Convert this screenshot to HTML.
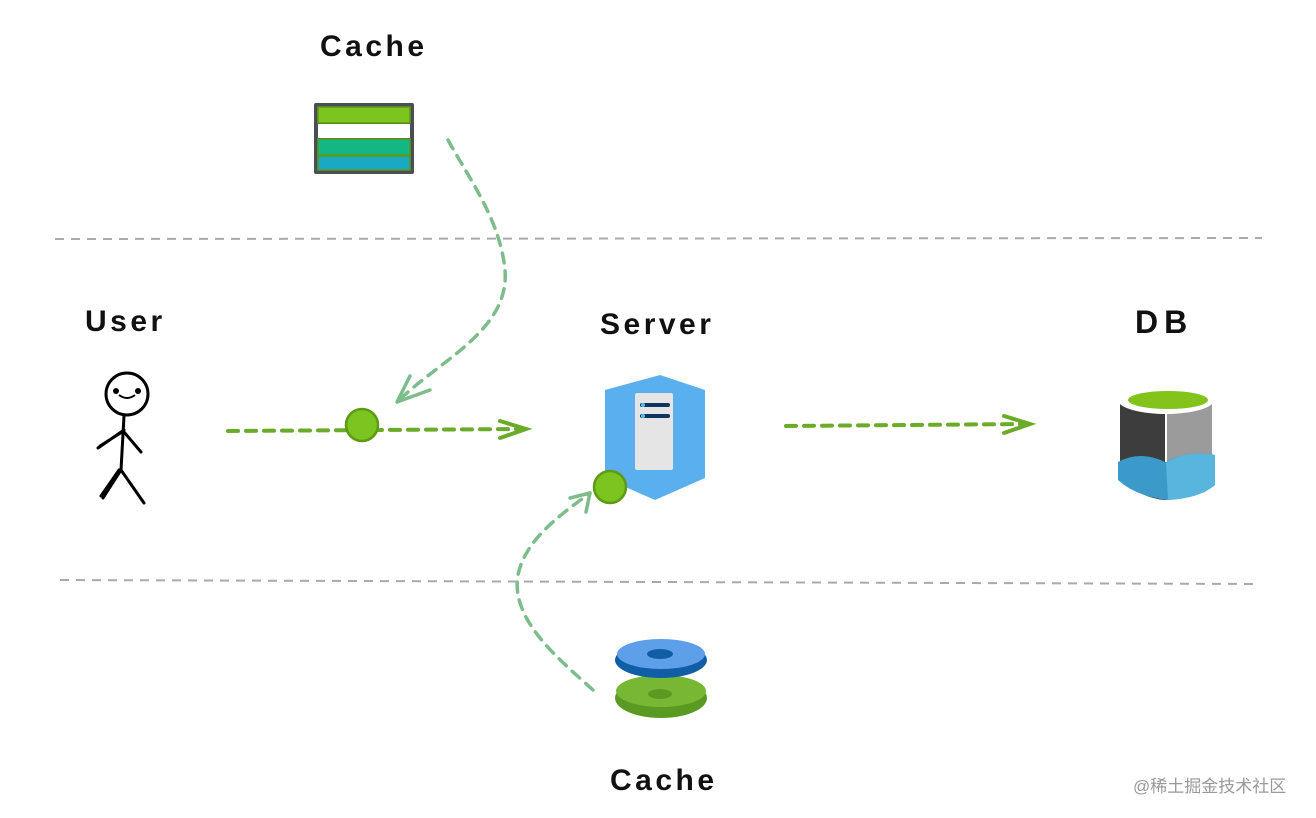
<!DOCTYPE html>
<html><head><meta charset="utf-8"><style>
html,body{margin:0;padding:0;background:#fff;}
svg{display:block}
text{font-family:"Liberation Sans",sans-serif;font-weight:bold;fill:#111;letter-spacing:3.5px}
</style></head><body>
<svg width="1316" height="818" viewBox="0 0 1316 818">
<line x1="55" y1="239" x2="1262" y2="238" stroke="#aaa" stroke-width="2" stroke-dasharray="9,7"/>
<line x1="60" y1="580" x2="1258" y2="584" stroke="#aaa" stroke-width="2" stroke-dasharray="9,7"/>
<text x="320" y="56" font-size="30">Cache</text>
<text x="85" y="331" font-size="30">User</text>
<text x="600" y="334" font-size="30">Server</text>
<text x="1135" y="333" font-size="32" style="letter-spacing:6px">DB</text>
<text x="610" y="790" font-size="30">Cache</text>
<text x="1133" y="792" font-size="17" style="font-weight:normal;letter-spacing:0;fill:#999;font-family:'Liberation Sans','Noto Sans CJK SC',sans-serif">@稀土掘金技术社区</text>
<rect x="314" y="103" width="100" height="71" rx="2" fill="#4a4f57"/>
<rect x="318" y="107" width="92" height="16" fill="#7cc41f" stroke="#5f9a14" stroke-width="1.5"/>
<rect x="318" y="124" width="92" height="14" fill="#fff"/>
<rect x="318" y="139" width="92" height="16" fill="#13b783" stroke="#5f9a14" stroke-width="1.5"/>
<rect x="318" y="156" width="92" height="14" fill="#19a9c5" stroke="#5f9a14" stroke-width="1.5"/>
<g stroke="#000" stroke-width="3" fill="none" stroke-linecap="round">
<circle cx="127" cy="394" r="21"/>
<line x1="124" y1="416" x2="121" y2="470"/>
<path d="M124 430 L98 448 M122 432 L100 446"/>
<path d="M124 432 L141 452"/>
<path d="M121 470 L103 498 M119 470 L101 496"/>
<path d="M121 470 L144 503"/>
</g>
<circle cx="116" cy="391" r="3" fill="#000"/><circle cx="138" cy="391" r="3" fill="#000"/>
<path d="M119 395 Q127 401 135 395" stroke="#000" stroke-width="2" fill="none"/>
<polygon points="605,390 660,375 705,390 705,478 655,500 605,478" fill="#5aafee"/>
<rect x="635" y="393" width="38" height="77" rx="2" fill="#e5e5e5"/>
<rect x="640" y="403" width="30" height="4" rx="2" fill="#0d3560"/>
<rect x="640" y="414" width="30" height="4" rx="2" fill="#0d3560"/>
<circle cx="643" cy="405" r="2" fill="#4fc3e8"/><circle cx="643" cy="416" r="2" fill="#4fc3e8"/>
<path d="M1120 398 L1120 478 Q1140 498 1165 500 L1205 492 Q1214 480 1212 452 L1212 398 Z" fill="#3d3d3d"/>
<path d="M1166 405 L1212 398 L1212 460 L1166 462 Z" fill="#9b9b9b"/>
<path d="M1118 462 Q1140 450 1165 462 Q1190 450 1215 455 L1215 485 Q1200 498 1168 500 Q1135 496 1118 480 Z" fill="#3b9ac9"/>
<path d="M1166 462 Q1190 450 1215 455 L1215 485 Q1200 498 1168 500 Z" fill="#58b5dd"/>
<ellipse cx="1166" cy="400" rx="48" ry="14" fill="#fff"/>
<ellipse cx="1168" cy="400" rx="40" ry="9" fill="#84c31a"/>
<line x1="1166" y1="413" x2="1166" y2="462" stroke="#fff" stroke-width="2"/>
<ellipse cx="661" cy="698" rx="46" ry="20" fill="#5b9a22"/>
<ellipse cx="661" cy="691" rx="45" ry="16" fill="#78b734"/>
<ellipse cx="660" cy="694" rx="12" ry="5" fill="#5b9a22"/>
<ellipse cx="661" cy="660" rx="46" ry="18" fill="#0f5ea6"/>
<ellipse cx="661" cy="654" rx="44" ry="15" fill="#5d9fe9"/>
<ellipse cx="660" cy="654" rx="13" ry="5" fill="#0f5ea6"/>
<g stroke="#6aab2a" stroke-width="4" fill="none" stroke-linecap="round">
<line x1="228" y1="431" x2="522" y2="429" stroke-dasharray="10,8"/>
<path d="M500 421 L526 429 L500 438"/>
<line x1="786" y1="426" x2="1026" y2="424" stroke-dasharray="10,8"/>
<path d="M1004 416 L1030 424 L1004 433"/>
</g>
<g stroke="#7dbd8c" stroke-width="3.5" fill="none" stroke-linecap="round">
<path d="M448 140 C470 180 500 220 505 270 C510 330 440 360 397 402" stroke-dasharray="10,8"/>
<path d="M397 402 L410 376 M397 402 L430 390"/>
<path d="M593 690 C560 660 510 620 518 575 C525 540 560 515 590 493" stroke-dasharray="10,8"/>
<path d="M590 493 L570 498 M590 493 L586 512"/>
</g>
<circle cx="362" cy="425" r="16" fill="#7cc41f" stroke="#5f9a14" stroke-width="2.5"/>
<circle cx="610" cy="487" r="16" fill="#7cc41f" stroke="#5f9a14" stroke-width="2.5"/>
</svg>
</body></html>
